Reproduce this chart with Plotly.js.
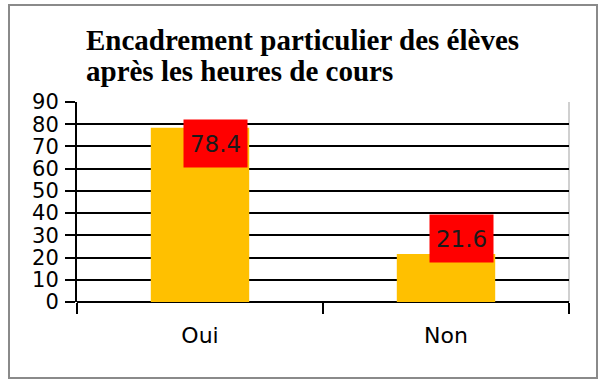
<!DOCTYPE html>
<html>
<head>
<meta charset="utf-8">
<script src="https://cdn.plot.ly/plotly-3.0.1.min.js"></script>
<style>
  html, body { margin: 0; padding: 0; background: #fff; }
  #wrap { position: relative; width: 600px; height: 380px; }
  #chart { position: absolute; left: 0; top: 0; width: 600px; height: 380px; }
  #frame { position: absolute; left: 8px; top: 4px; width: 586px; height: 371px;
           border: 2px solid #8a8a8a; pointer-events: none; }
</style>
</head>
<body>
<div id="wrap">
  <div id="chart"></div>
  <div id="frame"></div>
</div>
<script>
// ---- data ----
const categories = ["Oui", "Non"];
const values = [78.4, 21.6];
const labelTexts = ["78.4", "21.6"];
const titleLines = ["Encadrement particulier des élèves", "après les heures de cours"];
const yTickValues = [0, 10, 20, 30, 40, 50, 60, 70, 80, 90];

// label box vertical offsets (px) relative to bar top
const labelYShift = [-16, 16];
// title line vertical positions (paper units)
const titleLineY = [1.31, 1.155];

const trace = {
  type: "bar",
  x: categories,
  y: values,
  marker: { color: "#FFC000", line: { width: 0 } },
  width: 0.4,
  hoverinfo: "none"
};

const annotations = categories.map((c, i) => ({
  x: c, y: values[i], xref: "x", yref: "y",
  text: labelTexts[i],
  showarrow: false,
  xshift: 15, yshift: labelYShift[i],
  bgcolor: "#FF0000",
  width: 63, height: 47, borderpad: 0,
  font: { family: "DejaVu Sans", size: 23, color: "#1a1a1a" },
  align: "center", valign: "middle"
}));

titleLines.forEach((t, i) => {
  annotations.push({
    text: t, xref: "paper", yref: "paper",
    x: 0.0142, y: titleLineY[i], xanchor: "left", yanchor: "middle",
    showarrow: false,
    font: { family: "Liberation Serif, 'DejaVu Serif', serif", size: 29, color: "#000", weight: 700 }
  });
});

const layout = {
  width: 600, height: 380,
  margin: { l: 77, r: 31, t: 102, b: 78 },
  paper_bgcolor: "#ffffff",
  plot_bgcolor: "#ffffff",
  showlegend: false,
  xaxis: {
    type: "category",
    showgrid: false,
    showline: false,
    ticks: "outside", tickson: "boundaries",
    ticklen: 11, tickwidth: 2, tickcolor: "#000",
    ticklabelstandoff: 18,
    tickfont: { family: "DejaVu Sans", size: 22, color: "#000" },
    zeroline: false,
    fixedrange: true
  },
  yaxis: {
    range: [0, 90],
    tickvals: yTickValues,
    ticktext: yTickValues.map(String),
    showgrid: true, gridcolor: "#000", gridwidth: 2,
    zeroline: true, zerolinecolor: "#000", zerolinewidth: 2,
    showline: true, linecolor: "#000", linewidth: 2,
    ticks: "outside", ticklen: 10, tickwidth: 2, tickcolor: "#000",
    ticklabelstandoff: 2,
    tickfont: { family: "DejaVu Sans", size: 21, color: "#000" },
    fixedrange: true
  },
  shapes: [{
    type: "line", xref: "paper", yref: "paper",
    x0: 1, x1: 1, y0: 0, y1: 1,
    line: { color: "#c0c0c0", width: 1.5 },
    layer: "below"
  }],
  annotations: annotations
};

Plotly.newPlot("chart", [trace], layout, { displayModeBar: false, staticPlot: true });
</script>
</body>
</html>
